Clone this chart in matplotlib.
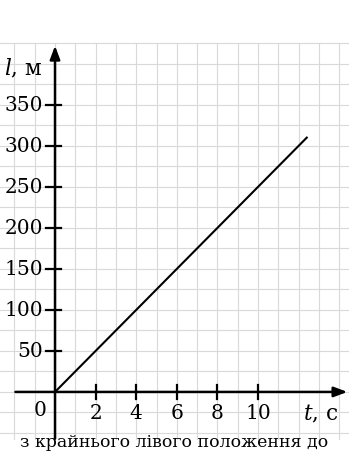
import numpy as np
import matplotlib
matplotlib.use("Agg")
import matplotlib.pyplot as plt

# data
t_vals = [0, 12.4]
l_vals = [0, 310]
x_ticks = [2, 4, 6, 8, 10]
y_ticks = [50, 100, 150, 200, 250, 300, 350]

plt.rcParams["mathtext.fontset"] = "dejavuserif"

fig = plt.figure(figsize=(3.49, 4.52), dpi=100)
ax = fig.add_axes([0, 0, 1, 1])
ax.set_xlim(-2.71, 14.48)
ax.set_ylim(-72, 479)
ax.axis("off")

serif = "DejaVu Serif"
gc = "#d9d9d9"

# grid (1 s by 25 m)
for gx in np.arange(-2, 15, 1):
    ax.plot([gx, gx], [-57, 425], color=gc, lw=0.8, zorder=1)
for gy in np.arange(-50, 426, 25):
    ax.plot([-2.71, 14.48], [gy, gy], color=gc, lw=0.8, zorder=1)

# axes with arrows
ax.annotate("", xy=(14.4, 0), xytext=(-1.95, 0),
            arrowprops=dict(arrowstyle="-|>,head_length=0.8,head_width=0.3",
                            color="black", lw=1.8, shrinkA=0, shrinkB=0), zorder=3)
ax.annotate("", xy=(0, 422), xytext=(0, -57),
            arrowprops=dict(arrowstyle="-|>,head_length=0.8,head_width=0.3",
                            color="black", lw=1.8, shrinkA=0, shrinkB=0), zorder=3)

# ticks
for xt in x_ticks:
    ax.plot([xt, xt], [-8.5, 8.5], color="black", lw=1.6, zorder=3)
    ax.text(xt, -13, str(xt), ha="center", va="top", fontsize=14.5, family=serif)
for yt in y_ticks:
    ax.plot([-0.45, 0.3], [yt, yt], color="black", lw=1.6, zorder=3)
    ax.text(-0.6, yt, str(yt), ha="right", va="center", fontsize=14.5, family=serif)
ax.text(-0.4, -10, "0", ha="right", va="top", fontsize=14.5, family=serif)

# axis labels
ax.text(-0.6, 395, r"$l$, м", ha="right", va="center", fontsize=15.5, family=serif)
ax.text(12.2, -13, r"$t$, с", ha="left", va="top", fontsize=15.5, family=serif)

# the graph
ax.plot(t_vals, l_vals, color="black", lw=1.5, zorder=4)

# caption line at the bottom (cut off in the source scan)
ax.text(5.88, -71, "з крайнього лівого положення до", ha="center", va="bottom",
        fontsize=12.5, family=serif)

fig.savefig("out.png", dpi=100)
